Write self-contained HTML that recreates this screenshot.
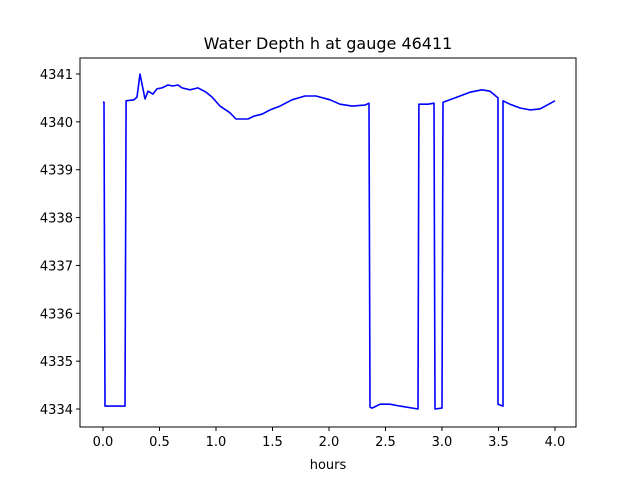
<!DOCTYPE html>
<html><head><meta charset="utf-8"><style>
body{margin:0;background:#fff}
svg text{font-family:"DejaVu Sans","Liberation Sans",sans-serif;fill:#000}
</style></head><body>
<svg width="640" height="480">
<text x="328" y="49" font-size="16" text-anchor="middle">Water Depth h at gauge 46411</text>
<g id="ax"></g>
<path id="line" fill="none" stroke="#0000ff" stroke-width="1.6" stroke-linejoin="round"/>
<rect x="80" y="58" width="496" height="369" fill="none" stroke="#000" stroke-width="1"/>
<text x="328" y="469" font-size="13" text-anchor="middle">hours</text>
</svg>
<script>
const times=[0,0.009,0.018,0.195,0.204,0.274,0.301,0.327,0.372,0.398,0.442,0.478,0.522,0.575,0.619,0.664,0.699,0.770,0.841,0.912,0.965,1.035,1.124,1.177,1.221,1.283,1.336,1.407,1.478,1.566,1.673,1.788,1.885,2.009,2.097,2.204,2.319,2.354,2.363,2.381,2.451,2.540,2.628,2.788,2.796,2.876,2.929,2.938,3.0,3.009,3.115,3.248,3.354,3.425,3.496,3.496,3.540,3.540,3.602,3.690,3.779,3.867,4.0];
const depths=[4340.41,4340.41,4334.06,4334.06,4340.44,4340.46,4340.52,4341.0,4340.48,4340.64,4340.58,4340.69,4340.71,4340.77,4340.75,4340.77,4340.71,4340.67,4340.71,4340.62,4340.52,4340.33,4340.19,4340.06,4340.06,4340.06,4340.12,4340.16,4340.25,4340.33,4340.46,4340.54,4340.54,4340.46,4340.37,4340.33,4340.35,4340.39,4334.04,4334.02,4334.10,4334.10,4334.06,4334.0,4340.37,4340.37,4340.39,4334.0,4334.02,4340.41,4340.50,4340.62,4340.67,4340.64,4340.50,4334.10,4334.06,4340.44,4340.37,4340.29,4340.25,4340.27,4340.44];
const xTicks=["0.0","0.5","1.0","1.5","2.0","2.5","3.0","3.5","4.0"];
const yTicks=["4334","4335","4336","4337","4338","4339","4340","4341"];
const X=t=>103+t*113, Y=h=>74+(4341-h)*47.86;
const ns="http://www.w3.org/2000/svg", ax=document.getElementById('ax');
function mk(tag,a){const e=document.createElementNS(ns,tag);for(const k in a)e.setAttribute(k,a[k]);ax.appendChild(e);return e;}
xTicks.forEach(s=>{const x=X(parseFloat(s));
 const l=mk('line',{x1:x,x2:x,y1:427,y2:431,stroke:'#000'});
 
 
 const t=mk('text',{x:x,y:446,'font-size':13,'text-anchor':'middle'});t.textContent=s;
 
 });
yTicks.forEach(s=>{const y=Y(parseFloat(s));
 const l=mk('line',{x1:76,x2:80,y1:y,y2:y,stroke:'#000'});
 
 
 const t=mk('text',{x:73,y:y+5,'font-size':13,'text-anchor':'end'});t.textContent=s;
 
 });
document.getElementById('line').setAttribute('d',times.map((t,i)=>(i?'L':'M')+X(t).toFixed(1)+','+Y(depths[i]).toFixed(1)).join(''));
</script>
</body></html>
